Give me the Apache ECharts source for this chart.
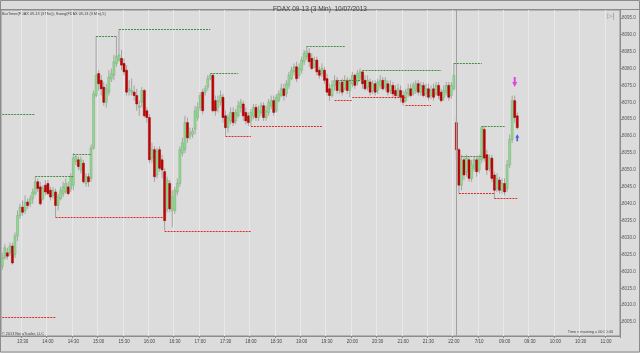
<!DOCTYPE html>
<html><head><meta charset="utf-8">
<script src="https://cdn.jsdelivr.net/npm/echarts@6/dist/echarts.min.js"></script>
<style>html,body{margin:0;padding:0;background:#dcdcdc}#c{width:640px;height:353px}</style>
</head><body><div id="c"></div>
<script>
// ---- time categories (3-minute bars) ----
const day1Start = 786, day1End = 1320;   // 13:06 .. 22:00
const day2Start = 483, day2End = 675;    // 08:03 .. 11:15 (incl. empty future slots)
function hm(t){const h=Math.floor(t/60),m=t%60;return (h<10?'0':'')+h+':'+(m<10?'0':'')+m;}
const categories = [];
for (let t=day1Start;t<=day1End;t+=3) categories.push(hm(t));
for (let t=day2Start;t<=day2End;t+=3) categories.push(hm(t));

// ---- OHLC values ----
const opens = [
8021.5,8024,8025.5,8025.5,8027.5,8025,8030.5,8036.5,8039,8038,
8040.5,8040,8041.5,8043,8046.5,8045,8041.5,8045.5,8046,8044,
8042.5,8043.5,8039.5,8041.5,8043,8043.5,8045,8044.5,8045.5,8052.5,
8053,8050,8052,8046,8048,8047.5,8056.5,8072,8078.5,8076.5,
8074.5,8070,8073,8077,8078,8081.5,8082.5,8083,8081.5,8079.5,
8073.5,8073,8073,8072,8068.5,8070,8073.5,8067.5,8065.5,8053.5,
8056,8048.5,8056,8053,8049.5,8038.5,8046,8038,8038,8043.5,
8046,8055,8056,8064,8060,8060.5,8062,8065.5,8068.5,8073,
8073,8074.5,8077,8078,8070.5,8068.5,8070,8071.5,8066,8062.5,
8064.5,8067,8064.5,8066,8068.5,8069.5,8067,8066,8064.5,8066,
8068.5,8065.5,8067,8069,8065.5,8067,8069,8070.5,8067.5,8070.5,
8072,8074,8072.5,8075,8077,8079,8080.5,8078,8079.5,8082,
8083.5,8084.5,8083,8080.5,8082.5,8079.5,8078.5,8079.5,8077,8074,
8072,8075,8076.5,8073.5,8076,8074,8076.5,8073.5,8075.5,8078,
8076,8077,8079,8076.5,8074.5,8076,8073.5,8075.5,8073.5,8075,
8076.5,8074.5,8075.5,8073.5,8075,8073.5,8072,8073.5,8072,8070.5,
8072.5,8074,8072.5,8073.5,8075.5,8073,8075,8072.5,8074,8072,
8074,8072.5,8075,8073,8071.5,8073,8075,8072,8074,
8064,8056,8045.5,8053,8049.5,8053,8047.5,8050.5,8053,8050,
8053,8062,8054.5,8050.5,8053.5,8048.5,8044.5,8047,8044,8046,
8044.5,8051.5,8059,8070.5,8066];
const highs = [
8025.5,8028,8027,8028.5,8028.5,8031.5,8038,8040,8041,8042.5,
8041.5,8042.5,8044.5,8048,8047.5,8046.5,8045.5,8047,8047,8045,
8045,8044.5,8043,8045,8046.5,8047.5,8046.5,8049,8055,8054.5,
8054,8054,8053,8049,8049,8057.5,8073.5,8089.5,8079.5,8078,
8076,8075.5,8079.5,8080,8084,8089.5,8091.5,8085.5,8083,8081,
8076.5,8077,8075,8074,8070.5,8074.5,8074,8068.5,8066.5,8058,
8057,8056.5,8057,8054.5,8050.5,8048,8047,8044,8045,8047.5,
8057,8059.5,8066,8065.5,8062.5,8062.5,8069,8070,8073,8074,
8075,8078,8078.5,8078.5,8072,8072,8073.5,8072.5,8067.5,8066.5,
8068.5,8068.5,8068,8070.5,8071,8070.5,8068.5,8067,8068,8069.5,
8069.5,8069,8070,8070,8069,8071,8072,8072,8072.5,8073.5,
8075.5,8075.5,8076.5,8079,8080.5,8081.5,8082,8081.5,8083.5,8085.5,
8086.5,8086,8084.5,8083.5,8083.5,8080.5,8081.5,8080.5,8078.5,8075.5,
8076.5,8078,8077.5,8076.5,8077,8078,8077.5,8077,8079,8078.5,
8079.5,8080,8079.5,8078,8078,8077,8076.5,8076.5,8077,8078,
8077.5,8077.5,8076.5,8076.5,8076,8075,8075.5,8075,8073.5,8074,
8075.5,8075.5,8076,8076.5,8076.5,8076,8076,8075.5,8075.5,8075,
8075.5,8076,8076,8074,8075,8076,8076,8076,8081.5,
8065.5,8056.5,8054.5,8054,8054.5,8054,8053,8054,8054,8054.5,
8063,8063,8056,8054.5,8054.5,8049.5,8049,8048,8047.5,8047.5,
8053,8060.5,8072,8072,8067];
const lows = [
8020.5,8023.5,8023.5,8024.5,8022,8024,8029,8035.5,8036.5,8037,
8038.5,8039,8040,8042.5,8043.5,8039.5,8041,8042.5,8042.5,8041,
8041.5,8036,8038,8041,8042,8043,8042.5,8043.5,8044,8051.5,
8050,8049,8046,8045,8045,8046.5,8056,8071.5,8073.5,8072,
8069,8068.5,8072,8076,8076.5,8080.5,8082,8079.5,8078,8072,
8072,8072,8070.5,8067.5,8066,8068.5,8065.5,8064,8052,8052,
8046.5,8047.5,8049.5,8047.5,8032,8037.5,8037.5,8033,8037,8042.5,
8045,8054,8055,8058,8059,8059.5,8060.5,8064.5,8067.5,8066.5,
8072,8073.5,8076.5,8067,8066,8067,8069,8064,8060,8061,
8063.5,8063,8063.5,8065.5,8067,8064.5,8063.5,8063,8063,8065,
8064.5,8064.5,8066,8064.5,8064.5,8066,8068,8066,8067,8070,
8071.5,8070.5,8071.5,8074,8076.5,8078,8076,8077,8078.5,8081,
8082.5,8080.5,8079.5,8080,8078,8077,8077.5,8075.5,8072,8070.5,
8071.5,8073.5,8072.5,8072.5,8072,8073.5,8072.5,8071.5,8074.5,8074,
8075,8076.5,8074,8073.5,8073.5,8072,8072.5,8072,8072.5,8074,
8073.5,8073.5,8072,8072.5,8071.5,8071,8071.5,8070,8069,8070,
8071.5,8071.5,8072,8072.5,8072,8072,8071.5,8071.5,8070.5,8071,
8070.5,8072,8071,8070,8070.5,8072,8070.5,8071,8073.5,
8053,8043,8044,8047,8048,8046.5,8046.5,8049.5,8048,8049,
8052,8052.5,8048.5,8049.5,8046.5,8041.5,8043.5,8043,8043,8042.5,
8043.5,8050.5,8058,8064,8062];
const closes = [
8024,8027,8024.5,8027.5,8022.5,8030.5,8036.5,8039,8037.5,8040.5,
8039.5,8041.5,8043.5,8046.5,8044.5,8040,8044.5,8043.5,8043,8042,
8044,8039.5,8042,8044,8045,8046,8043,8048,8053.5,8054,
8051,8053,8046.5,8048,8046.5,8056.5,8072.5,8078,8075.5,8074,
8070,8074,8077.5,8078.5,8082,8083.5,8084,8081,8079,8073,
8074,8073.5,8072,8069.5,8069,8073.5,8066,8065.5,8053,8056,
8048,8055.5,8050.5,8050,8035,8047,8038.5,8042,8044,8046,
8056,8058,8064,8059.5,8061,8061.5,8067.5,8068.5,8072,8067.5,
8074,8077,8078,8067.5,8067.5,8070.5,8072,8065.5,8062.5,8065.5,
8067,8064,8067,8069,8070,8066,8064.5,8064,8067,8068.5,
8065.5,8067.5,8069,8065.5,8067.5,8070,8070.5,8067,8071.5,8072.5,
8074,8072,8075.5,8078,8079.5,8080.5,8077,8080,8082.5,8084.5,
8085,8082,8080,8082.5,8079,8078,8080,8076.5,8073,8072,
8075,8076.5,8073.5,8075.5,8073,8076.5,8073.5,8076,8078,8075,
8078.5,8079,8075.5,8074,8076.5,8073,8075.5,8073,8076,8076.5,
8074,8076.5,8073,8075,8072.5,8072,8074,8071.5,8070,8073,
8074,8072,8075,8075.5,8073,8075,8072,8074,8071.5,8073.5,
8071.5,8075,8072,8070.5,8073.5,8075,8071.5,8075,8078,
8056,8045.5,8053,8048.5,8053.5,8047.5,8051.5,8053,8049.5,8053.5,
8062.5,8053.5,8050,8053.5,8047.5,8044,8047.5,8044,8046,8043.5,
8051.5,8059,8070.5,8065.5,8062.5];

// ---- swing lines (start bar, end bar, price) ----
const swingHighStart = [0,13,28,37,46,82,120,132,142,178,181,189];
const swingHighEnd   = [13,28,35,45,82,93,135,142,173,189,189,198];
const swingHighPrice = [8066.5,8048,8054.5,8089.5,8091.5,8078.5,8086.5,8076.5,8079.5,8081.5,8054,8063];
const swingLowStart = [0,21,64,88,98,131,138,159,180,194];
const swingLowEnd   = [21,64,98,98,126,138,159,169,194,203];
const swingLowPrice = [8006.5,8036,8032,8060,8063,8070.5,8071.5,8069,8043,8041.5];

// ---- misc ----
const yTickValues = [8005,8010,8015,8020,8025,8030,8035,8040,8045,8050,8055,8060,8065,8070,8075,8080,8085,8090,8095];
const sessionBreak = 178.5;
const downArrow = [202, 8076];
const upArrow = [203, 8059.5];
const lastPrice = closes[closes.length-1];

const ohlc = opens.map((o,i)=>[i,o,closes[i],lows[i],highs[i]]);
function segs(s,e,p){return s.map((v,k)=>[{coord:[v,p[k]]},{coord:[e[k],p[k]]}]);}

function showTick(idx){const v=categories[idx];return v.endsWith(':00')||v.endsWith(':30');}
const F='Liberation Sans';

const chart = echarts.init(document.getElementById('c'),null,{renderer:'canvas'});
chart.setOption({
  animation:false,
  backgroundColor:'#dcdcdc',
  title:{text:'FDAX 09-13 (3 Min)  10/07/2013',left:'center',top:1,
    textStyle:{fontSize:6.5,color:'#444',fontWeight:'normal',fontFamily:F}},
  grid:{left:1,right:20,top:10,bottom:17,show:true,borderColor:'#8c8c8c',borderWidth:1,backgroundColor:'#dcdcdc'},
  xAxis:{type:'category',data:categories,boundaryGap:true,
    axisLine:{show:true,lineStyle:{color:'#8c8c8c'}},
    axisTick:{show:true,interval:showTick,length:2,lineStyle:{color:'#8c8c8c'}},
    axisLabel:{interval:showTick,formatter:v=>v==='08:30'?'7/10':v,fontSize:4.5,color:'#444',margin:3,fontFamily:F},
    splitLine:{show:true,interval:showTick,lineStyle:{color:'#e8e8e8',width:1}}},
  yAxis:{type:'value',position:'right',min:8000.9,max:8097.3,
    axisLine:{show:true,lineStyle:{color:'#8c8c8c'}},
    axisTick:{show:true,customValues:yTickValues,length:2,lineStyle:{color:'#8c8c8c'}},
    axisLabel:{customValues:yTickValues,formatter:v=>Number(v).toFixed(1),fontSize:4.5,color:'#555',margin:2,fontFamily:F},
    splitLine:{show:false}},
  series:[
    {type:'line',data:[],silent:true,
      markLine:{silent:true,symbol:'none',animation:false,
        lineStyle:{color:'#a0a0a0',width:1,type:'solid'},label:{show:false},
        data:[[{coord:[sessionBreak,8000.9]},{coord:[sessionBreak,8097.3]}]]}},
    {type:'line',data:[],silent:true,
      markLine:{silent:true,symbol:'none',animation:false,
        lineStyle:{color:'#3f8f3f',width:1,type:[2,1]},label:{show:false},
        data:segs(swingHighStart,swingHighEnd,swingHighPrice)}},
    {type:'line',data:[],silent:true,
      markLine:{silent:true,symbol:'none',animation:false,
        lineStyle:{color:'#e02828',width:1,type:[2,1]},label:{show:false},
        data:segs(swingLowStart,swingLowEnd,swingLowPrice)}},
    {type:'custom',data:ohlc,encode:{x:0,y:[1,2,3,4]},silent:true,clip:true,
      renderItem:function(params,api){
        const i=api.value(0),o=api.value(1),c=api.value(2),l=api.value(3),h=api.value(4);
        const po=api.coord([i,o]),pc=api.coord([i,c]),pl=api.coord([i,l]),ph=api.coord([i,h]);
        const w=api.size([1,0])[0]*0.8;const x=po[0];
        const up=c>=o;
        const top=Math.min(po[1],pc[1]);const ht=Math.max(Math.abs(po[1]-pc[1]),1);
        return {type:'group',children:[
          {type:'line',shape:{x1:x,y1:ph[1],x2:x,y2:pl[1]},style:{stroke:'#a4a4a4',lineWidth:1}},
          {type:'rect',shape:{x:x-w/2,y:top,width:w,height:ht},
           style:up?{fill:'#98d498',stroke:'#6cb66c',lineWidth:0.5}:{fill:'#c40000',stroke:'#9a0000',lineWidth:0.5}}
        ]};
      }},
    {type:'scatter',data:[downArrow],symbol:'path://M3,0 L7,0 L7,6 L10,6 L5,12 L0,6 L3,6 Z',symbolSize:[5,10],
      itemStyle:{color:'#e020e0'},silent:true},
    {type:'scatter',data:[upArrow],symbol:'path://M5,0 L10,6 L7,6 L7,12 L3,12 L3,6 L0,6 Z',symbolSize:[4,7],
      itemStyle:{color:'#2040d0'},silent:true},
    {type:'line',data:[],silent:true,
      markLine:{silent:true,symbol:'none',animation:false,lineStyle:{opacity:0},
        label:{show:true,position:'end',distance:2,formatter:()=>lastPrice.toFixed(1),
          backgroundColor:'#000',color:'#fff',fontSize:5,padding:[1,1,0,1],fontFamily:F},
        data:[{yAxis:lastPrice}]}}
  ],
  graphic:[
    {type:'rect',shape:{x:0.5,y:0.5,width:639,height:351.5},style:{fill:'none',stroke:'#8c8c8c',lineWidth:1},silent:true},
    {type:'line',shape:{x1:0,y1:9.5,x2:640,y2:9.5},style:{stroke:'#8c8c8c',lineWidth:1},silent:true},
    {type:'text',left:2,top:12,style:{text:'BarTimer(FDAX 09-13 (3 Min)), Swing(FDAX 09-13 (3 Min),5)',fontSize:3.8,fill:'#444',fontFamily:F}},
    {type:'text',left:2,top:331.5,style:{text:'© 2013 NinjaTrader, LLC',fontSize:3.8,fill:'#444',fontFamily:F}},
    {type:'text',right:27,top:330,style:{text:'Time remaining = 00:00:40',fontSize:3.8,fill:'#444',fontFamily:F}},
    {type:'text',left:607,top:13,style:{text:'▷|',fontSize:7,fill:'#888',fontFamily:'DejaVu Sans'}}
  ]
});
</script></body></html>
